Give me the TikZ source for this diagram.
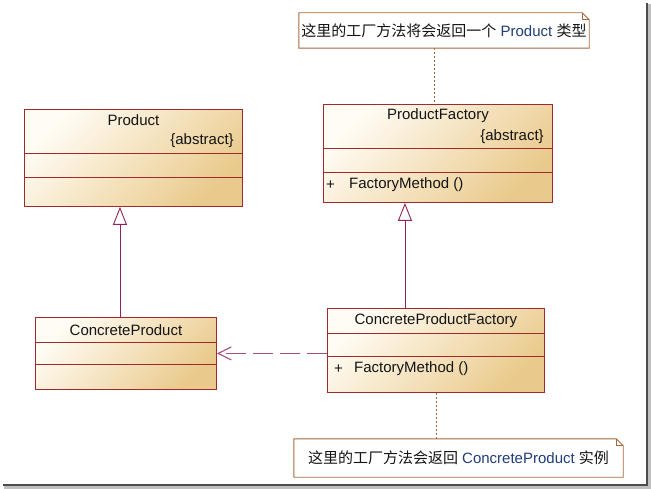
\documentclass[tikz,border=0pt]{standalone}
\usepackage{fontspec}
\setmainfont{Liberation Sans}
\newfontfamily\cjk{Noto Sans CJK SC}
\usetikzlibrary{arrows.meta, positioning, calc}

\definecolor{classborder}{HTML}{9E2A2B}
\definecolor{classlight}{HTML}{FFFCF4}
\definecolor{classdark}{HTML}{EACA8C}
\definecolor{genline}{HTML}{8E2457}
\definecolor{depline}{HTML}{A4517E}
\definecolor{noteborder}{HTML}{A8683A}
\definecolor{inktext}{HTML}{141414}
\definecolor{notename}{HTML}{1F3D78}

\begin{document}
\begin{tikzpicture}[x=1pt, y=-1pt,
    classbox/.style={draw=classborder, line width=0.9pt, top color=classlight,
        bottom color=classdark, shading angle=45, anchor=north west, inner sep=0pt},
    sepline/.style={draw=classborder, line width=0.9pt},
    txt/.style={inner sep=0pt, text=inktext, font=\fontsize{15}{17}\selectfont},
    notebox/.style={inner sep=0pt, minimum height=35pt, text=inktext,
        font=\fontsize{15}{17}\selectfont},
    noteedge/.style={draw=noteborder, line width=0.9pt},
    noteline/.style={draw=noteborder, line width=0.9pt, dash pattern=on 2pt off 2pt},
    genarrow/.style={draw=genline, line width=0.9pt,
        -{Triangle[open, length=18pt, width=14pt, fill=white]}},
    deparrow/.style={draw=depline, line width=1.2pt, dash pattern=on 20pt off 7pt,
        -{Straight Barb[length=13pt, width=13pt]}}]

\useasboundingbox (0,0) rectangle (651,489);

% screenshot shadow
\draw[line width=3pt, black!25] (4,487.5) -- (649.5,487.5) -- (649.5,4);
\draw[line width=2pt, black!70] (3,485) -- (647,485) -- (647,3);

% Left part Product ConcreteProduct
\node[classbox, minimum width=218pt, minimum height=97pt] (P) at (24,109) {};
\draw[sepline] ($(P.north west)+(0,44)$) -- ($(P.north east)+(0,44)$);
\draw[sepline] ($(P.north west)+(0,68)$) -- ($(P.north east)+(0,68)$);
\node[txt] (Pname) at ($(P.north)+(0,11)$) {Product};
\node[txt, anchor=east] (Pabs) at ($(P.north east)+(-9,32)$) {\{abstract\}};

\node[classbox, minimum width=181pt, minimum height=72pt] (CP) at (35,317) {};
\draw[sepline] ($(CP.north west)+(0,25)$) -- ($(CP.north east)+(0,25)$);
\draw[sepline] ($(CP.north west)+(0,47)$) -- ($(CP.north east)+(0,47)$);
\node[txt] (CPname) at ($(CP.north)+(0,13)$) {ConcreteProduct};

% Right part ProductFactory ConcreteProductFactory
\node[classbox, minimum width=229pt, minimum height=98pt] (PF) at (323,104) {};
\draw[sepline] ($(PF.north west)+(0,44)$) -- ($(PF.north east)+(0,44)$);
\draw[sepline] ($(PF.north west)+(0,68)$) -- ($(PF.north east)+(0,68)$);
\node[txt] (PFname) at ($(PF.north)+(0,12)$) {ProductFactory};
\node[txt, anchor=east] (PFabs) at ($(PF.north east)+(-9,33)$) {\{abstract\}};
\node[txt, anchor=west] (PFplus) at ($(PF.north west)+(3,81)$) {+};
\node[txt, anchor=west] (PFop) at ($(PF.north west)+(26,81)$) {FactoryMethod ()};

\node[classbox, minimum width=217pt, minimum height=84pt] (CPF) at (327,308) {};
\draw[sepline] ($(CPF.north west)+(0,25)$) -- ($(CPF.north east)+(0,25)$);
\draw[sepline] ($(CPF.north west)+(0,48)$) -- ($(CPF.north east)+(0,48)$);
\node[txt] (CPFname) at ($(CPF.north)+(0,13)$) {ConcreteProductFactory};
\node[txt, anchor=west] (CPFplus) at ($(CPF.north west)+(7,61)$) {+};
\node[txt, anchor=west] (CPFop) at ($(CPF.north west)+(27,61)$) {FactoryMethod ()};

% Notes
\node[notebox, minimum width=290pt] (N1) at (444,30.5)
    {{\cjk 这里的工厂方法将会返回一个} \textcolor{notename}{Product} {\cjk 类型}};
\node[notebox, minimum width=329pt, minimum height=38pt] (N2) at (458.5,458)
    {{\cjk 这里的工厂方法会返回} \textcolor{notename}{ConcreteProduct} {\cjk 实例}};
\draw[noteedge] (N1.north west) -- ($(N1.north east)+(-7,0)$) -- ($(N1.north east)+(0,7)$)
    -- (N1.south east) -- (N1.south west) -- cycle;
\draw[noteedge] ($(N1.north east)+(-7,0)$) |- ($(N1.north east)+(0,7)$);
\draw[noteedge] (N2.north west) -- ($(N2.north east)+(-7,0)$) -- ($(N2.north east)+(0,7)$)
    -- (N2.south east) -- (N2.south west) -- cycle;
\draw[noteedge] ($(N2.north east)+(-7,0)$) |- ($(N2.north east)+(0,7)$);

% Connectors
\draw[noteline] ([xshift=-10pt]N1.south) -- ([xshift=-10pt]N1.south |- PF.north);
\draw[noteline] (CPF.south) -- (CPF.south |- N2.north);
\draw[genarrow] ([xshift=-6pt]CP.north) -- ([xshift=-6pt]CP.north |- P.south);
\draw[genarrow] ([xshift=-31pt]CPF.north) -- ([xshift=-31pt]CPF.north |- PF.south);
\draw[deparrow] ([yshift=-3pt]CPF.west) -- ([yshift=-3pt]CPF.west -| CP.east);
\end{tikzpicture}
\end{document}
